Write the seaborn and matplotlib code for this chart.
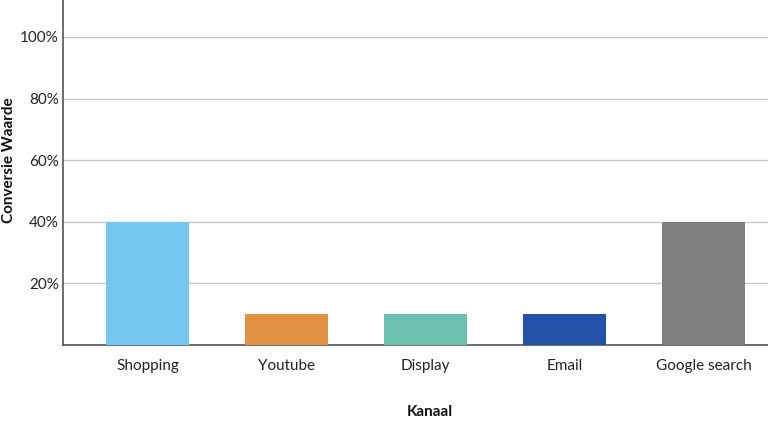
import matplotlib
matplotlib.use("Agg")
import matplotlib.pyplot as plt
import pandas as pd
import seaborn as sns
from matplotlib.ticker import FixedLocator

channels = ["Shopping", "Youtube", "Display", "Email", "Google search"]
values = [40, 10, 10, 10, 40]
colors = ["#76C7EF", "#E09142", "#6CC0AE", "#2452A8", "#808080"]
yticks = [20, 40, 60, 80, 100]

sns.set_theme(style="white")
plt.rcParams["font.family"] = ["Lato", "DejaVu Sans"]

df = pd.DataFrame({"Kanaal": channels, "Waarde": values})

fig, ax = plt.subplots(figsize=(7.68, 4.32), dpi=100)
fig.subplots_adjust(left=63 / 768, right=1.0, bottom=87 / 432, top=1.0)

sns.barplot(data=df, x="Kanaal", y="Waarde", hue="Kanaal", palette=colors,
            width=0.6, legend=False, saturation=1, linewidth=0, zorder=3, ax=ax)

ax.set_xlim(-0.608, 4.464)
ax.set_ylim(0, 112)
ax.yaxis.set_major_locator(FixedLocator(yticks))
ax.set_yticklabels([f"{t}%" for t in yticks])
ax.grid(axis="y", color="#C8C8C8", linewidth=1, zorder=0)
ax.tick_params(axis="both", length=0, labelsize=11, colors="#222222")
ax.tick_params(axis="x", pad=10)
ax.tick_params(axis="y", pad=3)

for side in ["top", "right"]:
    ax.spines[side].set_visible(False)
for side in ["left", "bottom"]:
    ax.spines[side].set_color("#555555")
    ax.spines[side].set_linewidth(1.2)

ax.set_xlabel("Kanaal", fontsize=11, fontweight="bold", color="#111111")
ax.set_ylabel("Conversie Waarde", fontsize=11, fontweight="bold", color="#111111")
ax.xaxis.set_label_coords(0.52, -0.175)
ax.yaxis.set_label_coords(-0.067, 0.535)

fig.savefig("out.png", dpi=100, facecolor="white")
